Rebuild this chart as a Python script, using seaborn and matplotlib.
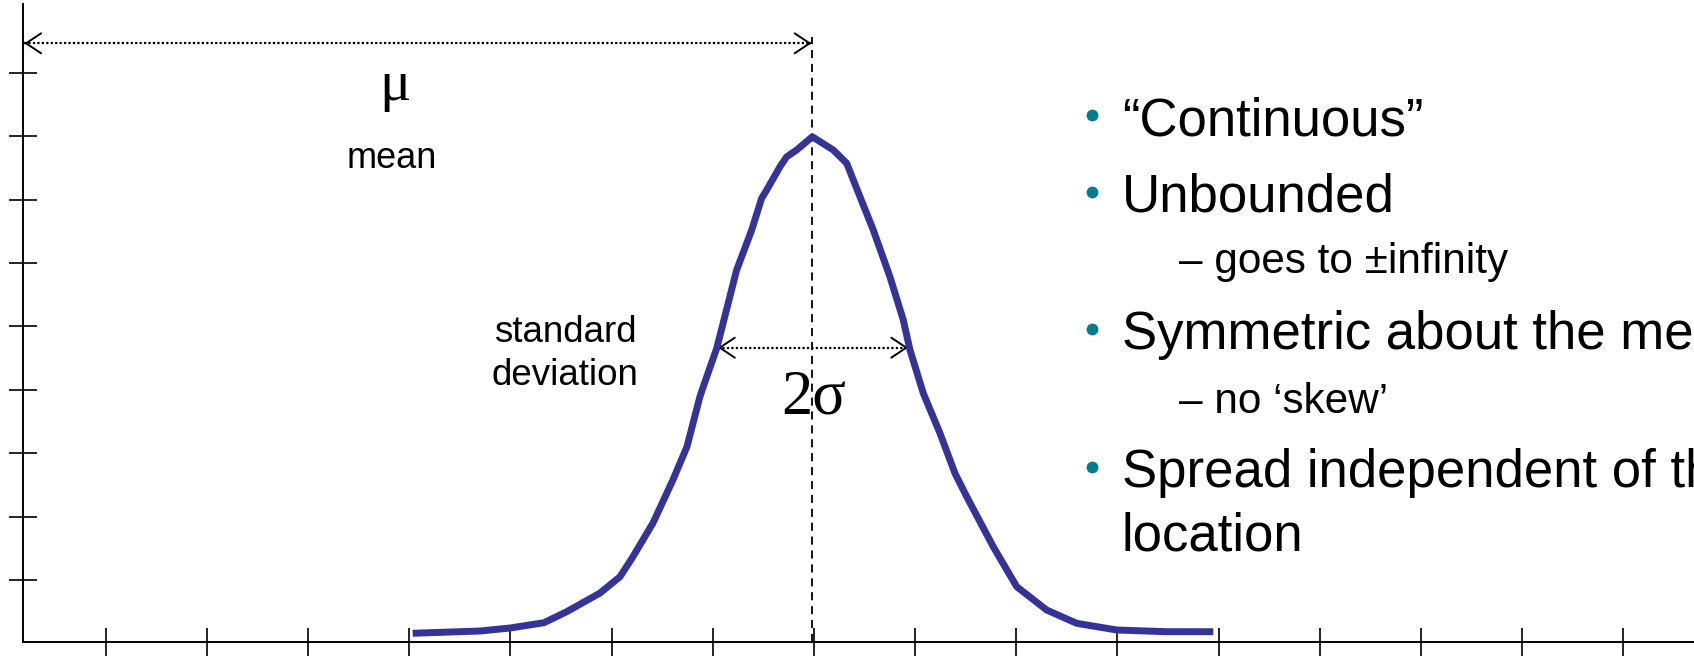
import numpy as np
import pandas as pd
import matplotlib
matplotlib.use("Agg")
import matplotlib.pyplot as plt
from matplotlib.patches import ArrowStyle
import seaborn as sns

# ---------------- data ----------------
curve_x = [4.034, 4.699, 4.996, 5.332, 5.556, 5.886, 6.083, 6.211, 6.409, 6.606,
           6.745, 6.873, 6.906, 7.039, 7.236, 7.385, 7.483, 7.533, 7.664, 7.731,
           7.829, 7.984, 8.191, 8.324, 8.389, 8.586, 8.751, 8.883, 8.949, 9.081,
           9.246, 9.394, 9.510, 9.772, 10.004, 10.300, 10.597, 10.992, 11.486, 11.947]
curve_y = [0.158, 0.194, 0.241, 0.325, 0.498, 0.793, 1.050, 1.366, 1.897, 2.576,
           3.101, 3.890, 4.047, 4.653, 5.888, 6.519, 7.019, 7.150, 7.517, 7.675,
           7.781, 7.990, 7.781, 7.571, 7.308, 6.520, 5.782, 5.100, 4.627, 3.943,
           3.312, 2.681, 2.312, 1.524, 0.893, 0.525, 0.315, 0.210, 0.183, 0.183]
x_ticks = list(range(1, 17))
y_ticks = list(range(1, 10))
mean_x = 7.98
sigma_left, sigma_right = 7.052, 8.93

bullet_texts = ["\u201cContinuous\u201d", "Unbounded", "Symmetric about the mean",
                "Spread independent of the"]
bullet_y = [8.017, 6.808, 4.642, 2.465]
sub_texts = ["\u2013 goes to \u00b1infinity", "\u2013 no \u2018skew\u2019"]
sub_y = [5.841, 3.632]
cont_text = "location"
cont_y = 1.456

# ---------------- style ----------------
sns.set_theme(style="white")
plt.rcParams["font.family"] = ["Liberation Sans", "DejaVu Sans"]

W, H = 1694, 656
fig = plt.figure(figsize=(W / 100, H / 100), dpi=100)
ax = fig.add_axes([22.8 / W, (H - 641.5) / H, 1 - 22.8 / W, (641.5 - 4) / H])
ax.set_xlim(0.1807, 16.698)
ax.set_ylim(0.0284, 10.084)

for s in ["top", "right"]:
    ax.spines[s].set_visible(False)
for s in ["left", "bottom"]:
    ax.spines[s].set_color("black")
    ax.spines[s].set_linewidth(1.4)

ax.set_xticks(x_ticks)
ax.set_yticks(y_ticks)
ax.set_xticklabels([])
ax.set_yticklabels([])
ax.tick_params(axis="both", direction="inout", length=20, width=1.2, color="black",
               bottom=True, left=True)

df = pd.DataFrame({"x": curve_x, "y": curve_y})
sns.lineplot(data=df, x="x", y="y", sort=False, estimator=None, ax=ax,
             color="#333399", linewidth=5, solid_joinstyle="round",
             solid_capstyle="butt", zorder=5)
ax.set_xlabel("")
ax.set_ylabel("")

# dashed mean line
ax.plot([mean_x, mean_x], [ax.get_ylim()[0], 9.56], color="black", lw=1.3,
        linestyle=(0, (4.5, 3.2)), zorder=3)


def dotted_arrow(x0, x1, y):
    ax.plot([x0, x1], [y, y], color="black", lw=1.6, linestyle=(0, (1, 1)),
            solid_capstyle="butt", zorder=4)
    style = ArrowStyle("->", head_length=10.8, head_width=7.2)
    for tip, back in [(x0, x0 + 0.02), (x1, x1 - 0.02)]:
        ax.annotate("", xy=(tip, y), xytext=(back, y),
                    arrowprops=dict(arrowstyle=style, mutation_scale=1, lw=1.4,
                                    color="black", shrinkA=0, shrinkB=0),
                    zorder=4)


dotted_arrow(0.196, 7.975, 9.464)
dotted_arrow(sigma_left, sigma_right, 4.663)

serif = ["Liberation Serif", "DejaVu Serif"]
ax.text(3.859, 8.569, "\u03bc", fontsize=42, family=serif, ha="center",
        va="baseline", color="black")
ax.text(3.825, 7.497, "mean", fontsize=26, ha="center", va="baseline", color="black")
ax.text(5.538, 4.754, "standard", fontsize=26.5, ha="center", va="baseline", color="black")
ax.text(5.538, 4.076, "deviation", fontsize=26.5, ha="center", va="baseline", color="black")
ax.text(8.0, 3.628, "2\u03c3", fontsize=45, family=serif, ha="center",
        va="baseline", color="black")

# bullet list
text_x = 11.044
dot_x = 10.748
sub_x = 11.608
for t, y in zip(bullet_texts, bullet_y):
    ax.text(text_x, y, t, fontsize=38, ha="left", va="baseline", color="black",
            clip_on=False)
ax.scatter([dot_x] * len(bullet_y), [y + 0.31 for y in bullet_y], s=72,
           color="#007C8C", linewidths=0, zorder=6)
for t, y in zip(sub_texts, sub_y):
    ax.text(sub_x, y, t, fontsize=30.4, ha="left", va="baseline", color="black")
ax.text(text_x, cont_y, cont_text, fontsize=38, ha="left", va="baseline", color="black")

fig.savefig("out.png", dpi=100)
